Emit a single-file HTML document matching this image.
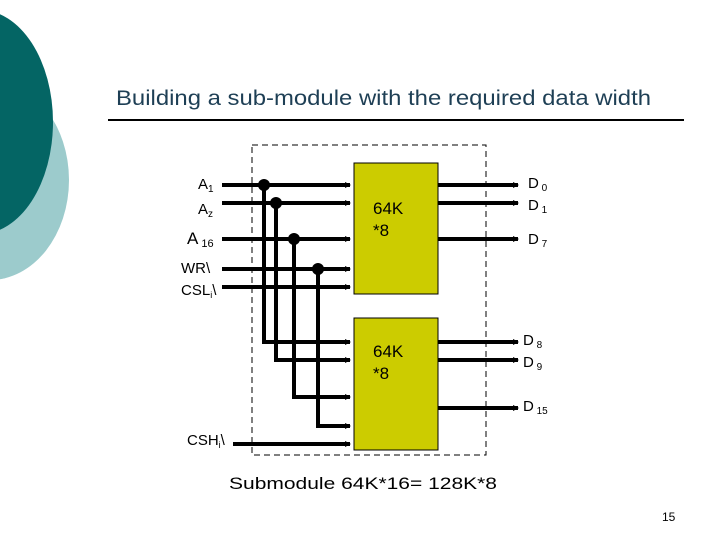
<!DOCTYPE html>
<html><head><meta charset="utf-8"><style>
html,body{margin:0;padding:0;background:#fff;}
svg{display:block;font-family:"Liberation Sans",sans-serif;}
</style></head><body>
<svg width="720" height="540" viewBox="0 0 720 540">
<defs><marker id="ar" markerWidth="6" markerHeight="6" refX="5" refY="3" orient="auto" markerUnits="userSpaceOnUse"><path d="M0,0 L6,3 L0,6z" fill="#000"/></marker></defs>
<ellipse cx="-10" cy="180" rx="79" ry="100" fill="#9ccbcc"/>
<ellipse cx="-20" cy="122" rx="73" ry="112" fill="#046564"/>
<text x="116" y="105" font-size="21" fill="#1e3f55" textLength="535" lengthAdjust="spacingAndGlyphs">Building a sub-module with the required data width</text>
<rect x="108" y="119" width="576" height="2" fill="#000"/>
<rect x="252" y="145" width="234" height="310" fill="none" stroke="#000" stroke-width="1" stroke-dasharray="6,4"/>
<rect x="354" y="163" width="84" height="131" fill="#cccc00" stroke="#000" stroke-width="1"/>
<rect x="354" y="318" width="84" height="132" fill="#cccc00" stroke="#000" stroke-width="1"/>
<g stroke="#000" stroke-width="4" fill="none">
<line x1="222" y1="185" x2="350" y2="185" marker-end="url(#ar)"/>
<line x1="222" y1="203" x2="350" y2="203" marker-end="url(#ar)"/>
<line x1="222" y1="239" x2="350" y2="239" marker-end="url(#ar)"/>
<line x1="222" y1="269" x2="350" y2="269" marker-end="url(#ar)"/>
<line x1="222" y1="287" x2="350" y2="287" marker-end="url(#ar)"/>
<polyline points="264,185 264,342 350,342" marker-end="url(#ar)"/>
<polyline points="276,203 276,360 350,360" marker-end="url(#ar)"/>
<polyline points="294,239 294,397 350,397" marker-end="url(#ar)"/>
<polyline points="318,269 318,426 350,426" marker-end="url(#ar)"/>
<line x1="233" y1="444" x2="350" y2="444" marker-end="url(#ar)"/>
<line x1="438" y1="185" x2="518" y2="185" marker-end="url(#ar)"/>
<line x1="438" y1="203" x2="518" y2="203" marker-end="url(#ar)"/>
<line x1="438" y1="239" x2="518" y2="239" marker-end="url(#ar)"/>
<line x1="438" y1="342" x2="518" y2="342" marker-end="url(#ar)"/>
<line x1="438" y1="360" x2="518" y2="360" marker-end="url(#ar)"/>
<line x1="438" y1="408" x2="518" y2="408" marker-end="url(#ar)"/>
</g>
<g fill="#000"><circle cx="264" cy="185" r="6"/><circle cx="276" cy="203" r="6"/><circle cx="294" cy="239" r="6"/><circle cx="318" cy="269" r="6"/></g>
<g font-size="15" fill="#000">
<text x="198" y="189">A<tspan font-size="10" dy="3">1</tspan></text>
<text x="198" y="214">A<tspan font-size="10" dy="3">z</tspan></text>
<text x="187" y="244" font-size="17">A<tspan font-size="11" dy="3"> 16</tspan></text>
<text x="181" y="273">WR\</text>
<text x="181" y="295">CSL<tspan font-size="9" dy="3">i</tspan><tspan dy="-3">\</tspan></text>
<text x="187" y="445">CSH<tspan font-size="9" dy="3">i</tspan><tspan dy="-3">\</tspan></text>
<text x="528" y="188">D<tspan font-size="10" dy="3"> 0</tspan></text>
<text x="528" y="210">D<tspan font-size="10" dy="3"> 1</tspan></text>
<text x="528" y="244">D<tspan font-size="10" dy="3"> 7</tspan></text>
<text x="523" y="345">D<tspan font-size="10" dy="3"> 8</tspan></text>
<text x="523" y="367">D<tspan font-size="10" dy="3"> 9</tspan></text>
<text x="523" y="411">D<tspan font-size="10" dy="3"> 15</tspan></text>
</g>
<g font-size="17" fill="#000">
<text x="373" y="214">64K</text><text x="373" y="236">*8</text>
<text x="373" y="357">64K</text><text x="373" y="379">*8</text>
<text x="229" y="489" textLength="268" lengthAdjust="spacingAndGlyphs">Submodule 64K*16= 128K*8</text>
</g>
<text x="662" y="521" font-size="12" fill="#000">15</text>
</svg>
</body></html>
